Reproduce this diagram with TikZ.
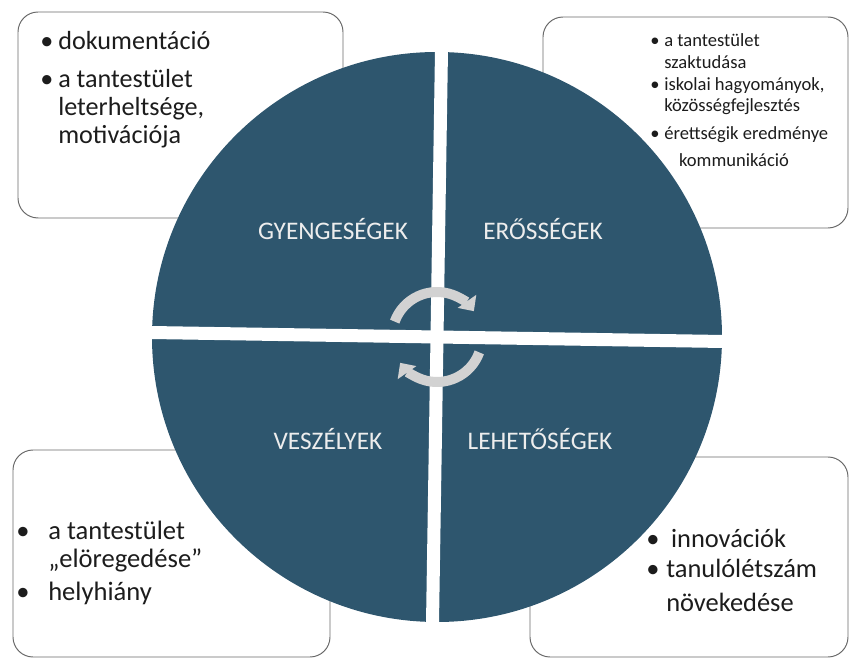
\documentclass[tikz,border=0pt]{standalone}
\usepackage{fontspec}
\setmainfont{Carlito}
\usetikzlibrary{arrows.meta}
\definecolor{swotblue}{RGB}{46,86,110}
\definecolor{arrowgray}{RGB}{210,210,210}
\definecolor{boxline}{RGB}{105,105,105}
\definecolor{inktext}{RGB}{28,28,28}

\begin{document}
\begin{tikzpicture}[x=0.025cm,y=0.025cm]
   \useasboundingbox (0,0) rectangle (850,658);
   \begin{scope}[every path/.style={draw=boxline,line width=0.7pt,rounded corners=0.5cm}]
    \draw (18,440) rectangle (343,646);
    \draw (543,430) rectangle (848,641);
    \draw (13,1) rectangle (330,208);
    \draw (530,1) rectangle (848,201);
   \end{scope}
   \coordinate (c) at (437,321);
   \fill[swotblue] (c) circle (285);
   \begin{scope}[rotate around={-0.9:(c)}]
    \fill[white] (430.5,30) rectangle (443.5,612);
    \fill[white] (145,314.5) rectangle (729,327.5);
   \end{scope}
   \begin{scope}[line width=0.25cm,arrowgray,-{Triangle[width=0.55cm,length=0.3cm]}]
    \draw ([shift={(160:45)}]c) arc[start angle=160,end angle=35,radius=45];
    \draw ([shift={(-20:45)}]c) arc[start angle=-20,end angle=-145,radius=45];
   \end{scope}
   \begin{scope}[every node/.style={text=white!93!black,font=\fontsize{18}{20}\selectfont,anchor=base,inner sep=0pt}]
    \node (gyenge) at (333,418) {GYENGESÉGEK};
    \node (eros) at (543,418) {ERŐSSÉGEK};
    \node (veszely) at (328,208) {VESZÉLYEK};
    \node (lehet) at (540,208) {LEHETŐSÉGEK};
   \end{scope}
   \begin{scope}[every node/.style={text=inktext,anchor=base west,inner sep=0pt}]
    \node[font=\fontsize{18.6}{19.9}\selectfont] (gyengelist) at (40,608) {%
     \begin{tabular}[t]{@{}p{0.45cm}@{}l@{}}
      • & dokumentáció\\[7pt]
      • & a tantestület\\
        & leterheltsége,\\
        & motivációja
     \end{tabular}};
    \node[font=\fontsize{13.2}{15.3}\selectfont] (eroslist) at (650,611) {%
     \begin{tabular}[t]{@{}p{0.35cm}@{}l@{}}
      • & a tantestület\\
        & szaktudása\\
      • & iskolai hagyományok,\\
        & közösségfejlesztés\\[4.3pt]
      • & érettségik eredménye\\[4.3pt]
        & \hspace{0.37cm}kommunikáció
     \end{tabular}};
    \node[font=\fontsize{18.9}{19.9}\selectfont] (veszelylist) at (16,118) {%
     \begin{tabular}[t]{@{}p{0.8cm}@{}l@{}}
      • & a tantestület\\
        & „elöregedése”\\[2.9pt]
      • & helyhiány
     \end{tabular}};
    \node[font=\fontsize{18.8}{21.3}\selectfont] (lehetlist) at (646,110) {%
     \begin{tabular}[t]{@{}p{0.5cm}@{}l@{}}
      • & \hspace{0.12cm}innovációk\\
      • & tanulólétszám\\[2.9pt]
        & növekedése
     \end{tabular}};
   \end{scope}
\end{tikzpicture}
\end{document}
